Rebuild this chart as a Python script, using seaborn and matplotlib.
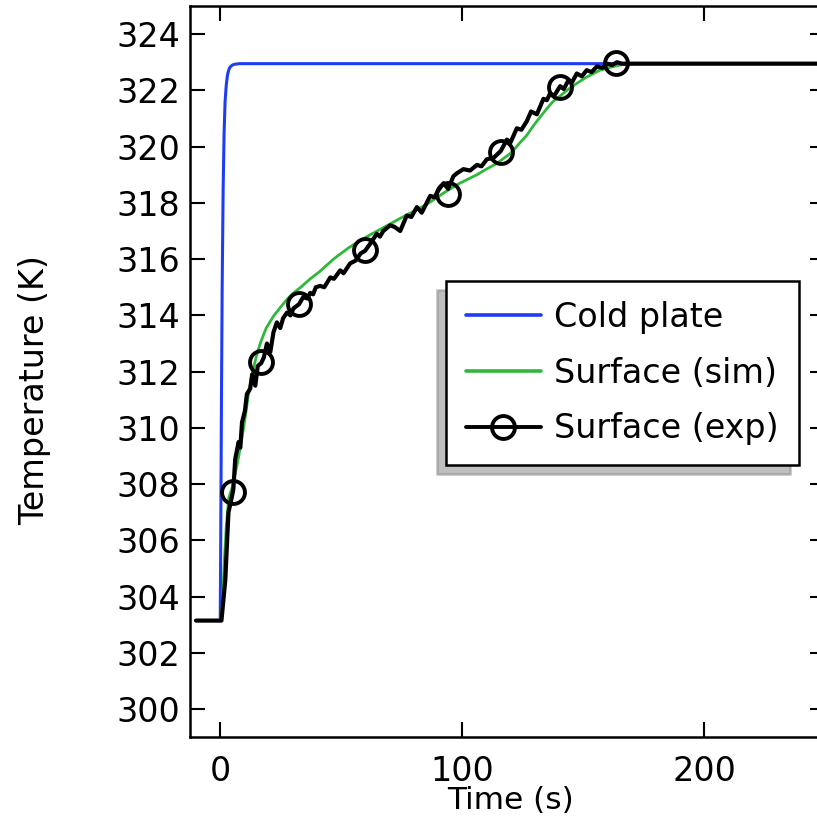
import matplotlib
matplotlib.use("Agg")
import matplotlib.pyplot as plt
from matplotlib.lines import Line2D
import seaborn as sns
import pandas as pd

# ---------------- data ----------------
cold_t = [-10, 0.0, 0.2, 0.5, 0.8, 1.2, 1.6, 2.0, 2.5, 3.0, 3.5, 4.0, 5.0, 6.0, 8.0, 250]
cold_T = [303.15, 303.15, 306.0, 311.0, 315.0, 318.5, 320.5, 321.6, 322.2, 322.55,
          322.72, 322.82, 322.9, 322.93, 322.95, 322.95]

sim_t = [-10, 0.3, 0.6, 1.0, 1.65, 2.5, 3.5, 5.0, 7.0, 8.5, 10.0, 11.5, 13.1, 14.8,
         16.5, 19.0, 22.0, 25.0, 27.6, 30.0, 33.0, 37.2, 41.0, 46.8, 53.0, 60.6,
         67.0, 74.4, 80.0, 85.4, 92.3, 99.0, 106.1, 110.0, 114.3, 119.8, 122.0,
         124.0, 126.7, 129.5, 132.2, 135.0, 137.5, 140.5, 144.0, 147.4, 151.0,
         154.3, 157.0, 161.2, 165.0, 168.0, 172.0, 250]
sim_T = [303.15, 303.15, 303.5, 303.9, 305.2, 306.5, 307.5, 307.9, 308.7, 309.4,
         310.2, 311.1, 311.9, 312.5, 313.0, 313.55, 313.97, 314.3, 314.57, 314.78,
         314.98, 315.3, 315.55, 316.0, 316.4, 316.8, 317.1, 317.45, 317.7, 317.95,
         318.35, 318.7, 319.0, 319.2, 319.4, 319.75, 319.95, 320.15, 320.4, 320.75,
         321.05, 321.35, 321.6, 321.8, 322.05, 322.25, 322.45, 322.6, 322.72,
         322.82, 322.9, 322.93, 322.95, 322.95]

exp_t = [-10, 0.5, 1.0, 2.1, 2.8, 3.4, 4.2, 5.4, 6.2, 7.6, 8.3, 9.0, 10.2, 11.0,
         12.4, 13.2, 14.5, 15.5, 16.9, 18.0, 19.3, 20.7, 22.0, 23.4, 24.8, 26.0,
         27.6, 29.0, 30.3, 32.6, 34.3, 36.0, 37.2, 38.4, 39.5, 41.3, 43.0, 45.5,
         47.0, 49.6, 51.0, 53.7, 56.0, 58.0, 59.9, 62.0, 64.7, 66.0, 67.4, 70.2,
         72.0, 74.4, 77.1, 79.0, 81.3, 83.3, 86.8, 88.5, 90.2, 92.3, 94.2, 96.4,
         97.8, 100.5, 103.3, 106.1, 108.0, 110.2, 113.0, 116.0, 118.5, 120.0,
         122.6, 124.5, 126.7, 128.5, 130.9, 133.6, 135.0, 136.4, 138.0, 140.5,
         142.0, 143.9, 145.5, 147.4, 149.5, 151.5, 153.5, 155.7, 158.0, 160.0,
         162.0, 164.0, 166.0, 168.0, 250]
exp_T = [303.15, 303.15, 303.6, 304.6, 305.9, 307.0, 307.3, 307.8, 308.9, 309.5,
         309.3, 310.2, 310.6, 311.2, 311.4, 311.9, 311.5, 312.2, 312.3, 312.5,
         313.0, 312.7, 313.4, 313.75, 313.55, 313.9, 314.1, 314.0, 314.25, 314.4,
         314.65, 314.6, 314.8, 314.75, 315.0, 315.05, 315.0, 315.35, 315.3, 315.6,
         315.5, 315.85, 315.95, 316.2, 316.3, 316.55, 316.9, 316.8, 317.0, 317.2,
         317.15, 317.0, 317.55, 317.5, 317.85, 317.65, 318.25, 318.2, 318.45,
         318.7, 318.5, 318.95, 319.05, 319.2, 319.15, 319.35, 319.3, 319.55, 319.6,
         319.85, 320.25, 320.15, 320.65, 320.6, 320.9, 321.25, 321.15, 321.7,
         321.65, 321.9, 321.8, 322.15, 322.05, 322.35, 322.3, 322.6, 322.5, 322.72,
         322.65, 322.85, 322.8, 322.95, 322.9, 323.0, 322.95, 322.95, 322.95]

mark_t = [5.4, 16.9, 32.6, 59.9, 94.2, 116.0, 140.4, 163.8]
mark_T = [307.73, 312.33, 314.39, 316.31, 318.3, 319.8, 322.12, 322.98]

labels = ["Cold plate", "Surface (sim)", "Surface (exp)"]
x_ticks = [0, 100, 200]
y_ticks = list(range(300, 325, 2))

# ---------------- style ----------------
sns.set_theme(style="ticks")
plt.rcParams["font.family"] = ["DejaVu Sans"]
plt.rcParams["text.color"] = "black"
plt.rcParams["axes.labelcolor"] = "black"
plt.rcParams["xtick.color"] = "black"
plt.rcParams["ytick.color"] = "black"

BLUE = "#1f3cf5"
GREEN = "#2fb83a"
FS = 24

fig = plt.figure(figsize=(8.17, 8.16), dpi=100)
ax = fig.add_axes([190 / 817, (816 - 737.3) / 816, 635 / 817, 731.3 / 816])

df_cold = pd.DataFrame({"t": cold_t, "T": cold_T})
df_sim = pd.DataFrame({"t": sim_t, "T": sim_T})
df_exp = pd.DataFrame({"t": exp_t, "T": exp_T})
df_mk = pd.DataFrame({"t": mark_t, "T": mark_T})

sns.lineplot(data=df_cold, x="t", y="T", ax=ax, color=BLUE, linewidth=2.2,
             sort=False, estimator=None, legend=False)
sns.lineplot(data=df_sim, x="t", y="T", ax=ax, color=GREEN, linewidth=2.0,
             sort=False, estimator=None, legend=False)
sns.lineplot(data=df_exp, x="t", y="T", ax=ax, color="black", linewidth=3.0,
             sort=False, estimator=None, legend=False)
ax.plot(df_mk["t"], df_mk["T"], linestyle="none", marker="o", markersize=16.5,
        markerfacecolor="none", markeredgecolor="black", markeredgewidth=2.8)

ax.set_xlim(-12.5, 250)
ax.set_ylim(299, 325)
ax.set_xticks(x_ticks)
ax.set_yticks(y_ticks)

for s in ax.spines.values():
    s.set_linewidth(1.8)
    s.set_color("black")
ax.tick_params(axis="both", which="major", direction="in", top=True, right=True,
               length=11, width=1.5, colors="black", labelsize=FS)
ax.tick_params(axis="y", pad=7)
ax.tick_params(axis="x", pad=13)

ax.set_xlabel("Time (s)", fontsize=22.5)
ax.set_ylabel("Temperature (K)", fontsize=FS)
ax.xaxis.set_label_coords(0.5055, -0.066)
ax.yaxis.set_label_coords(-0.219, 0.475)

handles = [
    Line2D([], [], color=BLUE, linewidth=2.6),
    Line2D([], [], color=GREEN, linewidth=2.6),
    Line2D([], [], color="black", linewidth=2.8, marker="o", markersize=16.5,
           markerfacecolor="none", markeredgewidth=2.8),
]
leg = ax.legend(handles, labels, loc="upper left", bbox_to_anchor=(0.403, 0.624),
                fontsize=FS, frameon=True, fancybox=False, framealpha=1,
                edgecolor="black", facecolor="white",
                shadow={"ox": -6.5, "oy": -6.5, "shade": 0.5},
                handlelength=2.25, handletextpad=0.4, labelspacing=0.68,
                borderpad=0.6, borderaxespad=0)
leg.get_frame().set_linewidth(1.8)

fig.savefig("out.png", dpi=100)
